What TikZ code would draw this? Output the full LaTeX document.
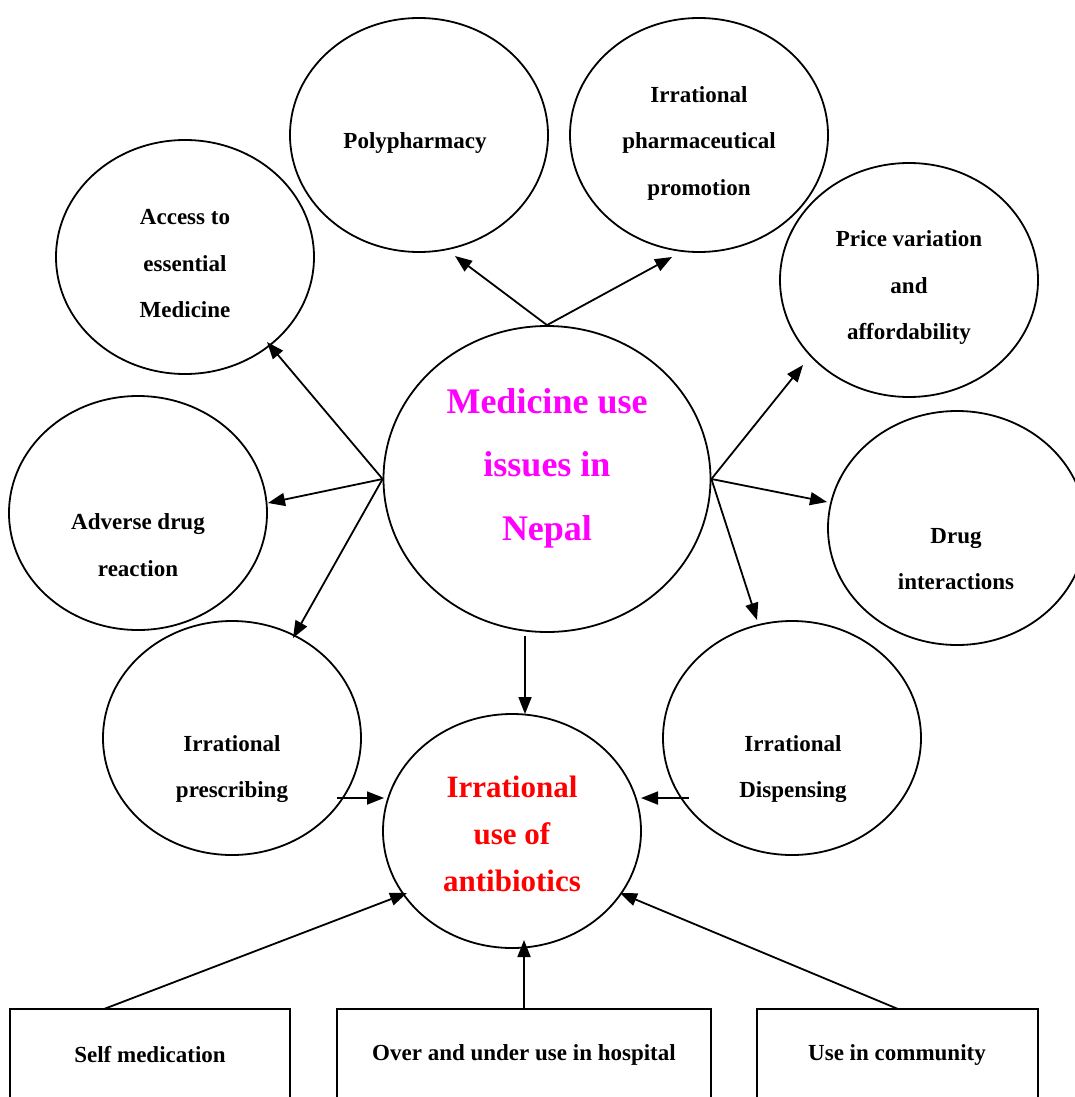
\documentclass[tikz,border=0pt]{standalone}
\usepackage{fontspec}
\setmainfont{Liberation Serif}
\usetikzlibrary{shapes.geometric,arrows.meta}
\definecolor{hotpink}{RGB}{255,0,255}
\definecolor{brightred}{RGB}{255,0,0}
\begin{document}
\begin{tikzpicture}[x=1pt,y=-1pt,
  bubble/.style={draw,ellipse,line width=1.8pt,inner sep=0pt,
                 minimum width=258pt,minimum height=234pt},
  bigbubble/.style={bubble,minimum width=327pt,minimum height=306pt},
  srcbox/.style={draw,rectangle,line width=1.8pt,inner sep=0pt,minimum height=140pt},
  lbl/.style={align=center,font=\bfseries\fontsize{23}{46.5}\selectfont},
  corelbl/.style={align=center,text=hotpink,font=\bfseries\fontsize{36}{63.5}\selectfont},
  abxlbl/.style={align=center,text=brightred,font=\bfseries\fontsize{31}{47}\selectfont},
  arr/.style={line width=1.8pt,-{Triangle[length=17pt,width=13pt]}}]
\useasboundingbox (0,0) rectangle (1075,1097);
\fill[white] (0,0) rectangle (1075,1097);
\clip (0,0) rectangle (1075,1097);

% ellipses
\node[bubble] (poly) at (419,135) {};
\node[bubble] (promo) at (699,135) {};
\node[bubble] (access) at (185,257) {};
\node[bubble] (price) at (909,280) {};
\node[bigbubble] (core) at (547,479) {};
\node[bubble] (adr) at (138,513) {};
\node[bubble] (inter) at (957,528) {};
\node[bubble] (presc) at (232,738) {};
\node[bubble] (disp) at (792,738) {};
\node[bubble] (abx) at (512,831) {};

% boxes along the bottom edge
\node[srcbox,minimum width=280pt] (selfbox) at (150,1079) {};
\node[srcbox,minimum width=374pt] (hospbox) at (524,1079) {};
\node[srcbox,minimum width=281pt] (commbox) at (897.5,1079) {};

% labels
\node[lbl] (polyT) at (415,143) {Polypharmacy};
\node[lbl] (promoT) at (699,143) {Irrational\\pharmaceutical\\promotion};
\node[lbl] (accessT) at (185,264) {Access to\\essential\\Medicine};
\node[lbl] (priceT) at (909,288) {Price variation\\and\\affordability};
\node[corelbl] (coreT) at (547,468) {Medicine use\\issues in\\Nepal};
\node[lbl] (adrT) at (138,545) {Adverse drug\\reaction};
\node[lbl] (interT) at (956,559) {Drug\\interactions};
\node[lbl] (prescT) at (232,769) {Irrational\\prescribing};
\node[lbl] (dispT) at (793,769) {Irrational\\Dispensing};
\node[abxlbl] (abxT) at (512,834) {Irrational\\use of\\antibiotics};
\node[lbl] (selfT) at (150,1055) {Self medication};
\node[lbl] (hospT) at (524,1055) {Over and under use in hospital};
\node[lbl] (commT) at (897,1055) {Use in community};

% connector end points
\coordinate (toPoly) at (455,256);
\coordinate (toPromo) at (672,257);
\coordinate (toAccess) at (267,342);
\coordinate (toAdr) at (268,503);
\coordinate (toPresc) at (293,638);
\coordinate (toPrice) at (803,365);
\coordinate (toInter) at (827,502);
\coordinate (toDisp) at (757,620);
\coordinate (downFrom) at (525,636);
\coordinate (downTo) at (525,714);
\coordinate (prescFrom) at (337,798);
\coordinate (prescTo) at (384,798);
\coordinate (dispFrom) at (689,798);
\coordinate (dispTo) at (641,798);
\coordinate (selfFrom) at (104,1009);
\coordinate (selfTo) at (407,893);
\coordinate (hospFrom) at (524,1009);
\coordinate (hospTo) at (524,940);
\coordinate (commFrom) at (898,1009);
\coordinate (commTo) at (620,893);

% connectors
\draw[arr] (core.north) -- (toPoly);
\draw[arr] (core.north) -- (toPromo);
\draw[arr] (core.west) -- (toAccess);
\draw[arr] (core.west) -- (toAdr);
\draw[arr] (core.west) -- (toPresc);
\draw[arr] (core.east) -- (toPrice);
\draw[arr] (core.east) -- (toInter);
\draw[arr] (core.east) -- (toDisp);
\draw[arr] (downFrom) -- (downTo);
\draw[arr] (prescFrom) -- (prescTo);
\draw[arr] (dispFrom) -- (dispTo);
\draw[arr] (selfFrom) -- (selfTo);
\draw[arr] (hospFrom) -- (hospTo);
\draw[arr] (commFrom) -- (commTo);
\end{tikzpicture}
\end{document}
